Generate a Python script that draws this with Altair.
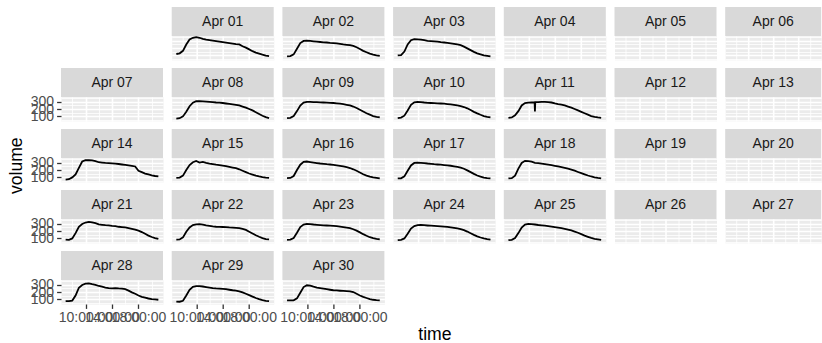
import altair as alt
import pandas as pd

# ---------------- data ----------------
times = ["07:00", "07:30", "08:00", "08:30", "09:00", "09:30", "10:00", "10:30",
         "11:00", "11:30", "12:00", "12:30", "13:00", "13:30", "14:00", "14:30",
         "15:00", "15:30", "16:00", "16:30", "17:00", "17:30", "18:00", "18:30",
         "19:00", "19:30", "20:00", "20:30", "21:00"]

apr11_times = ["07:00", "07:30", "08:00", "08:30", "09:00", "09:30", "10:00", "10:30",
               "10:57", "11:00", "11:03", "11:30", "12:00", "12:30", "13:00", "13:30",
               "14:00", "14:30", "15:00", "15:30", "16:00", "16:30", "17:00", "17:30",
               "18:00", "18:30", "19:00", "19:30", "20:00", "20:30", "21:00"]

apr01 = [115, 125, 160, 250, 320, 345, 355, 345, 330, 320, 312, 305, 298, 290, 282,
         275, 268, 262, 255, 250, 225, 205, 180, 155, 135, 120, 105, 92, 85]
apr02 = [80, 85, 110, 190, 270, 300, 305, 300, 295, 290, 285, 280, 278, 272, 268,
         265, 258, 250, 245, 240, 230, 210, 185, 160, 140, 120, 105, 95, 88]
apr03 = [95, 100, 150, 250, 310, 325, 322, 318, 310, 302, 298, 295, 290, 282, 278,
         272, 265, 258, 250, 240, 220, 195, 170, 145, 125, 110, 95, 88, 82]
apr08 = [65, 70, 95, 160, 240, 290, 310, 312, 308, 305, 300, 296, 292, 290, 285,
         278, 272, 266, 260, 250, 235, 220, 200, 180, 155, 130, 105, 85, 72]
apr09 = [70, 75, 100, 170, 250, 290, 300, 300, 298, 296, 295, 292, 290, 288, 285,
         280, 275, 268, 260, 250, 235, 215, 190, 165, 140, 120, 100, 88, 80]
apr10 = [72, 78, 105, 180, 260, 295, 302, 298, 292, 288, 285, 282, 280, 278, 275,
         270, 265, 258, 250, 240, 228, 210, 185, 160, 138, 118, 100, 90, 82]
apr11 = [75, 80, 110, 170, 250, 285, 290, 292, 294, 165, 296, 298, 300, 302, 298,
         292, 280, 270, 262, 250, 235, 220, 200, 180, 160, 140, 120, 100, 88, 80, 75]
apr14 = [65, 70, 95, 137, 230, 320, 340, 338, 335, 325, 310, 305, 300, 298, 295,
         290, 285, 278, 272, 265, 258, 250, 190, 170, 150, 137, 125, 115, 110]
apr15 = [88, 92, 120, 200, 270, 310, 328, 305, 315, 300, 290, 282, 275, 270, 262,
         255, 245, 235, 225, 210, 190, 170, 150, 135, 120, 108, 98, 92, 88]
apr16 = [85, 88, 115, 200, 275, 315, 320, 312, 305, 298, 292, 288, 282, 278, 272,
         265, 258, 250, 240, 228, 210, 190, 165, 140, 120, 105, 95, 88, 82]
apr17 = [80, 82, 110, 190, 265, 300, 305, 302, 298, 292, 288, 282, 278, 275, 270,
         265, 260, 252, 245, 235, 218, 195, 170, 145, 122, 105, 92, 85, 80]
apr18 = [80, 85, 120, 220, 300, 330, 325, 318, 300, 298, 290, 282, 275, 268, 260,
         250, 240, 230, 218, 205, 190, 172, 155, 138, 122, 108, 96, 88, 82]
apr21 = [78, 75, 95, 170, 260, 300, 320, 330, 322, 310, 295, 288, 282, 280, 272,
         268, 260, 255, 250, 240, 230, 220, 205, 185, 160, 135, 115, 100, 88]
apr22 = [78, 80, 110, 190, 250, 285, 295, 298, 290, 280, 272, 265, 260, 258, 257,
         255, 250, 248, 245, 240, 230, 215, 190, 165, 140, 118, 100, 85, 80]
apr23 = [75, 78, 100, 175, 255, 290, 300, 298, 292, 288, 284, 280, 278, 275, 272,
         268, 262, 255, 248, 240, 225, 205, 180, 155, 132, 112, 98, 88, 80]
apr24 = [72, 75, 95, 160, 235, 270, 282, 285, 282, 278, 275, 272, 268, 265, 262,
         258, 252, 245, 238, 228, 212, 192, 168, 145, 125, 108, 95, 85, 78]
apr25 = [70, 75, 100, 170, 250, 290, 300, 298, 292, 285, 280, 275, 270, 262, 255,
         248, 240, 230, 220, 208, 192, 175, 155, 135, 118, 102, 90, 82, 75]
apr28 = [70, 72, 78, 150, 260, 300, 318, 322, 310, 300, 285, 275, 262, 255, 252,
         256, 250, 247, 240, 220, 195, 175, 150, 132, 120, 108, 100, 95, 90]
apr29 = [65, 62, 75, 150, 230, 272, 282, 282, 278, 270, 262, 255, 250, 247, 245,
         240, 232, 225, 220, 210, 195, 175, 155, 135, 115, 98, 85, 75, 70]
apr30 = [80, 80, 82, 110, 190, 270, 295, 290, 275, 262, 255, 248, 240, 232, 225,
         222, 218, 215, 212, 210, 200, 175, 150, 130, 115, 100, 90, 85, 82]

calendar = [
    [None, "Apr 01", "Apr 02", "Apr 03", "Apr 04", "Apr 05", "Apr 06"],
    ["Apr 07", "Apr 08", "Apr 09", "Apr 10", "Apr 11", "Apr 12", "Apr 13"],
    ["Apr 14", "Apr 15", "Apr 16", "Apr 17", "Apr 18", "Apr 19", "Apr 20"],
    ["Apr 21", "Apr 22", "Apr 23", "Apr 24", "Apr 25", "Apr 26", "Apr 27"],
    ["Apr 28", "Apr 29", "Apr 30"],
]

x_breaks = [8, 10, 12, 14, 16, 18, 20]          # majors: 10, 14, 18
y_breaks = [50, 100, 150, 200, 250, 300, 350]   # majors: 100, 200, 300

series = [
    ("Apr 01", times, apr01), ("Apr 02", times, apr02), ("Apr 03", times, apr03),
    ("Apr 08", times, apr08), ("Apr 09", times, apr09), ("Apr 10", times, apr10),
    ("Apr 11", apr11_times, apr11), ("Apr 14", times, apr14), ("Apr 15", times, apr15),
    ("Apr 16", times, apr16), ("Apr 17", times, apr17), ("Apr 18", times, apr18),
    ("Apr 21", times, apr21), ("Apr 22", times, apr22), ("Apr 23", times, apr23),
    ("Apr 24", times, apr24), ("Apr 25", times, apr25), ("Apr 28", times, apr28),
    ("Apr 29", times, apr29), ("Apr 30", times, apr30),
]


def to_hours(t):
    h, m = t.split(":")
    return int(h) + int(m) / 60.0


records = []
for label, ts, vals in series:
    for t, v in zip(ts, vals):
        records.append({"date": label, "hour": to_hours(t), "volume": v})
df = pd.DataFrame(records)

# ---------------- style ----------------
FONT = "Liberation Sans"
W, H, SH = 102, 24, 29
W_LAST = 96          # last column is cut by the right edge in the reference
COL_GAP, ROW_GAP = 8.7, 8

x_major = "datum.value % 4 === 2"
y_major = "datum.value % 100 === 0"


def make_x_axis(show):
    return alt.Axis(
        values=x_breaks, grid=True, gridColor="white",
        gridWidth={"condition": {"test": x_major, "value": 1.6}, "value": 0.8},
        domain=False, title=None, labels=show, ticks=show,
        tickColor="#333333", tickSize=4.4, tickWidth=1.3,
        tickOpacity={"condition": {"test": x_major, "value": 1}, "value": 0},
        labelExpr=f"{x_major} ? (datum.value < 10 ? '0' : '') + datum.value + ':00:00' : ''",
        labelColor="#4D4D4D", labelFontSize=14, labelFont=FONT, labelPadding=2,
        labelOverlap=False, labelFlush=False,
    )


def make_y_axis(show):
    return alt.Axis(
        values=y_breaks, grid=True, gridColor="white",
        gridWidth={"condition": {"test": y_major, "value": 1.6}, "value": 0.8},
        domain=False, title=None, labels=show, ticks=show,
        tickColor="#333333", tickSize=4.4, tickWidth=1.3,
        tickOpacity={"condition": {"test": y_major, "value": 1}, "value": 0},
        labelExpr=f"{y_major} ? datum.value : ''",
        labelColor="#4D4D4D", labelFontSize=14, labelFont=FONT, labelPadding=3,
        labelOverlap=False, labelFlush=False, labelBaseline="middle",
    )


def blank(height, width):
    return alt.Chart(pd.DataFrame({"t": [""]})).mark_text().encode(
        text="t:N"
    ).properties(width=width, height=height,
                 view=alt.ViewBackground(fill="white", stroke="transparent"))


def strip(label, gap, width):
    if label is None:
        return blank(SH + gap, width)
    sdf = pd.DataFrame({"label": [label], "lo": [0.0], "hi": [1.0], "mid": [0.5]})
    yscale = alt.Scale(domain=[0, 1], range=[SH + gap, gap], nice=False, zero=False)
    base = alt.Chart(sdf)
    rect = base.mark_rect(color="#D9D9D9").encode(
        y=alt.Y("lo:Q", scale=yscale, axis=None), y2="hi:Q")
    text = base.mark_text(font=FONT, fontSize=14, color="#1A1A1A",
                          baseline="middle", align="center").encode(
        y=alt.Y("mid:Q", scale=yscale, axis=None), text="label:N")
    return alt.layer(rect, text).properties(
        width=width, height=SH + gap,
        view=alt.ViewBackground(fill="white", stroke="transparent"))


def panel(label, show_y, show_x, width):
    if label is None:
        return blank(H, width)
    return alt.Chart(df).transform_filter(
        alt.datum.date == label
    ).mark_line(color="black", strokeWidth=1.8, clip=True).encode(
        x=alt.X("hour:Q", scale=alt.Scale(domain=[6.3, 21.7], nice=False, zero=False),
                axis=make_x_axis(show_x)),
        y=alt.Y("volume:Q", scale=alt.Scale(domain=[30, 370], nice=False, zero=False),
                axis=make_y_axis(show_y)),
    ).properties(width=width, height=H,
                 view=alt.ViewBackground(fill="#EBEBEB", stroke="transparent"))


cells = []
n_rows = len(calendar)
for r, row in enumerate(calendar):
    gap = 0 if r == 0 else ROW_GAP
    full = row + [None] * (7 - len(row))
    for c, l in enumerate(full):
        w = W_LAST if c == 6 else W
        if r == n_rows - 1 and l is None:
            cells.append(blank(SH + gap, w))
        else:
            cells.append(strip(l, gap, w))
    for c, l in enumerate(row):
        w = W_LAST if c == 6 else W
        cells.append(panel(l, show_y=(c == 0 and l is not None),
                           show_x=(r == n_rows - 1), width=w))

grid = alt.concat(*cells, columns=7, spacing={"row": 0, "column": COL_GAP},
                  bounds="flush").properties(
    title=alt.TitleParams("volume", orient="left", anchor="middle", font=FONT,
                          fontSize=17.6, fontWeight="normal", color="black", offset=4)
)

chart = alt.vconcat(grid).properties(
    title=alt.TitleParams("time", orient="bottom", anchor="middle", font=FONT,
                          fontSize=17.6, fontWeight="normal", color="black", offset=1,
                          dx=20),
    padding={"left": 8, "top": 6, "right": 0, "bottom": 0},
).configure(font=FONT).configure_view(stroke="transparent")

chart.save("out.html", embed_options={"renderer": "svg", "actions": False})
